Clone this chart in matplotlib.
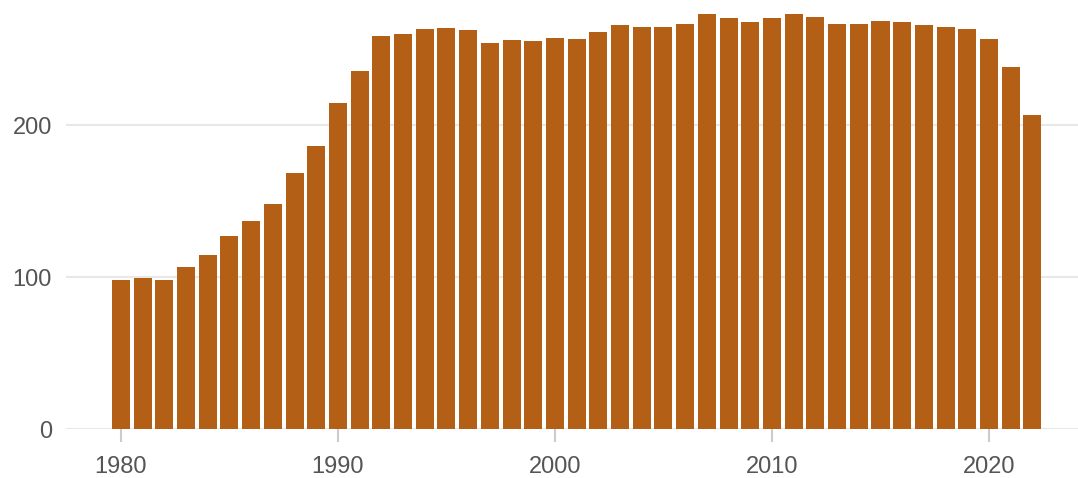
import matplotlib.pyplot as plt

years = list(range(1980, 2023))
values = [98.2, 99.5, 98.2, 106.8, 114.6, 127.1, 137.0, 148.2, 168.5, 186.3,
          214.5, 235.5, 258.5, 259.8, 263.1, 263.8, 262.5, 253.9, 255.9, 255.3,
          257.3, 256.6, 261.2, 265.8, 264.5, 264.5, 266.4, 273.0, 270.4, 267.7,
          270.4, 273.0, 271.1, 266.4, 266.4, 268.3, 267.7, 265.8, 264.5, 263.1,
          256.6, 238.2, 206.6]
xticks = [1980, 1990, 2000, 2010, 2020]
yticks = [0, 100, 200]

plt.rcParams['font.family'] = ['Liberation Sans', 'DejaVu Sans']

fig = plt.figure(figsize=(10.78, 4.78), dpi=100)
ax = fig.add_axes([0.0612, 0.1015, 0.9388, 0.8985])

ax.bar(years, values, width=0.83, color='#b35f16', zorder=3)

ax.set_xlim(1977.47, 2024.1)
ax.set_ylim(0, 282.2)
ax.set_yticks(yticks)
ax.set_xticks(xticks)
ax.grid(axis='y', color='#e8e8e8', linewidth=1.5, zorder=0)
ax.grid(axis='x', visible=False)
for s in ax.spines.values():
    s.set_visible(False)

ax.tick_params(axis='y', length=0, pad=10, labelsize=17, labelcolor='#555555')
ax.tick_params(axis='x', length=9, width=1.5, color='#cccccc', pad=10,
               labelsize=17, labelcolor='#555555')

fig.savefig('out.png', dpi=100)
